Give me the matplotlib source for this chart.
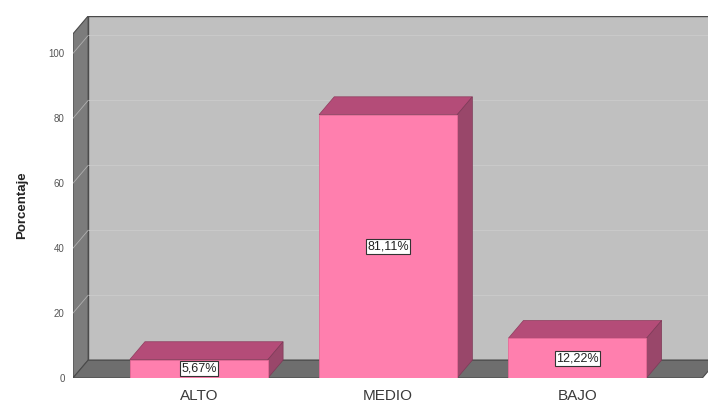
import matplotlib
matplotlib.use("Agg")
import matplotlib.pyplot as plt
from matplotlib.patches import Polygon

plt.rcParams["font.family"] = ["Liberation Sans", "DejaVu Sans"]

categorias = ["ALTO", "MEDIO", "BAJO"]
porcentajes = [5.67, 81.11, 12.22]
etiquetas = ["5,67%", "81,11%", "12,22%"]
yticks = [0, 20, 40, 60, 80, 100]

# 3D look: depth offset in data units, wall limits
DX, DY = 0.08, 5.5
YMAX = 106
X0, X1 = -0.665, 2.66
BAR_W = 0.73

PINK = "#ff7fae"
PINK_TOP = "#b44c78"
PINK_SIDE = "#99476a"
WALL = "#c0c0c0"
SIDE_WALL = "#7c7c7c"
FLOOR = "#6e6e6e"
EDGE = "#4a4a4a"

fig = plt.figure(figsize=(7.08, 4.04), dpi=100)
fig.patch.set_facecolor("white")
ax = fig.add_axes([73 / 708, 26 / 404, 635 / 708, 362 / 404])
ax.set_xlim(X0, 2.69)
ax.set_ylim(0, YMAX + DY)
ax.set_facecolor("none")
for s in ax.spines.values():
    s.set_visible(False)

# back wall
ax.add_patch(Polygon([(X0 + DX, DY), (X1 + DX, DY), (X1 + DX, YMAX + DY), (X0 + DX, YMAX + DY)],
                     closed=True, fc=WALL, ec=EDGE, lw=1.0, zorder=1))
for v in yticks[1:]:
    ax.plot([X0 + DX, X1 + DX], [v + DY, v + DY], color="#cacaca", lw=0.7, zorder=1.5)

# left wall
ax.add_patch(Polygon([(X0, 0), (X0 + DX, DY), (X0 + DX, YMAX + DY), (X0, YMAX)],
                     closed=True, fc=SIDE_WALL, ec=EDGE, lw=0.8, zorder=2))
for v in yticks[1:]:
    ax.plot([X0, X0 + DX], [v, v + DY], color="#b0b0b0", lw=0.6, zorder=2.5)

# floor
ax.add_patch(Polygon([(X0, 0), (X1, 0), (X1 + DX, DY), (X0 + DX, DY)],
                     closed=True, fc=FLOOR, ec=EDGE, lw=0.8, zorder=3))

x = list(range(len(categorias)))
bars = ax.bar(x, porcentajes, width=BAR_W, color=PINK, edgecolor="#e86a98", lw=0.6, zorder=5)

for b, txt in zip(bars, etiquetas):
    l, w, h = b.get_x(), b.get_width(), b.get_height()
    r = l + w
    ax.add_patch(Polygon([(l, h), (l + DX, h + DY), (r + DX, h + DY), (r, h)],
                         closed=True, fc=PINK_TOP, ec="#8e3c5e", lw=0.5, zorder=4))
    ax.add_patch(Polygon([(r, 0), (r + DX, DY), (r + DX, h + DY), (r, h)],
                         closed=True, fc=PINK_SIDE, ec="#7e3a58", lw=0.5, zorder=4))
    ax.text(l + w / 2, h / 2, txt, ha="center", va="center", fontsize=9, color="#222222",
            zorder=6, bbox=dict(boxstyle="square,pad=0.12", fc="white", ec="#333333", lw=0.8))

ax.set_yticks(yticks)
ax.set_yticklabels([str(v) for v in yticks], fontsize=7, color="#555555")
ax.tick_params(axis="y", length=0, pad=6)
ax.set_xticks(x)
ax.set_xticklabels(categorias, fontsize=11, color="#3a3a3a")
ax.tick_params(axis="x", length=0, pad=8)

fig.text(22 / 708, 1 - 205 / 404, "Porcentaje", rotation=90, ha="center", va="center",
         fontsize=9.5, fontweight="bold", color="#222222")

fig.savefig("out.png", dpi=100, facecolor="white")
